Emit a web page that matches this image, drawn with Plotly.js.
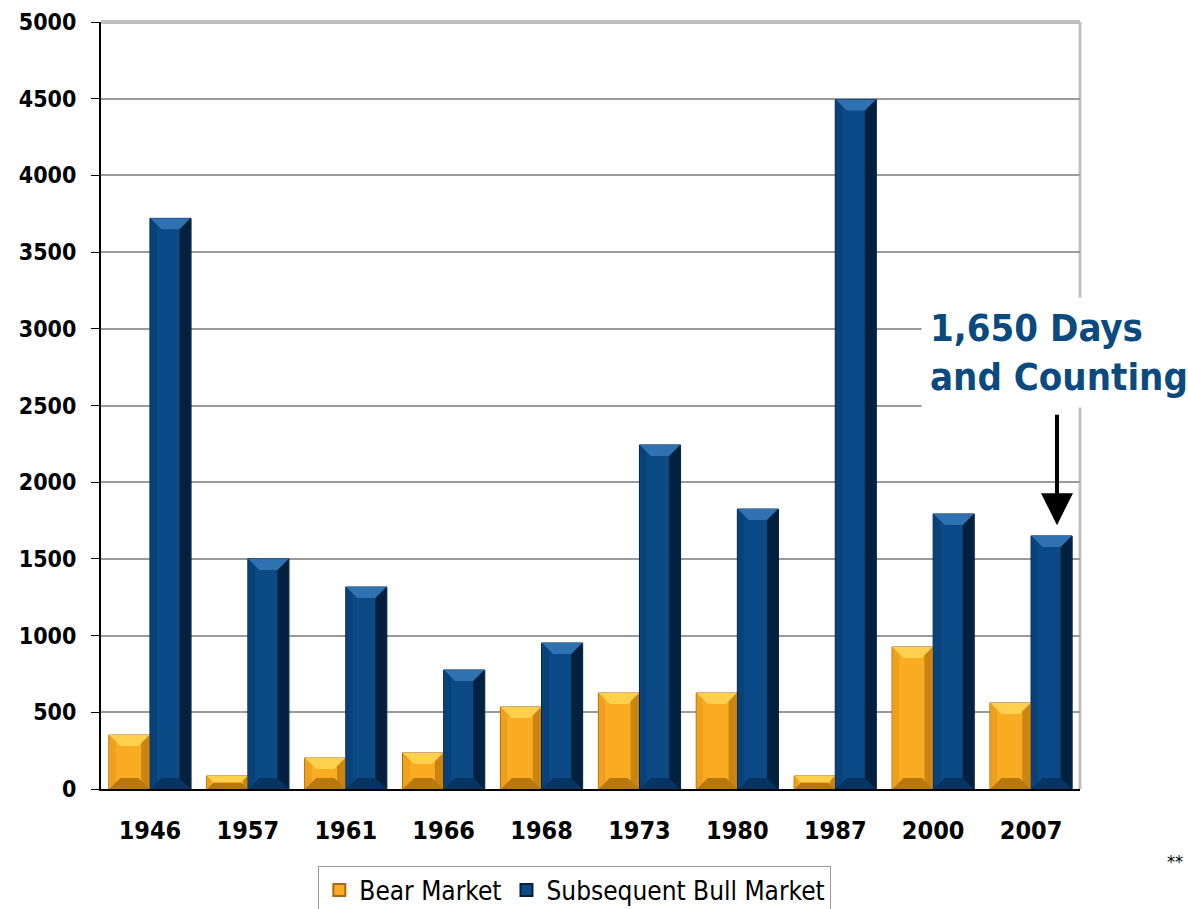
<!DOCTYPE html>
<html>
<head>
<meta charset="utf-8">
<script src="https://cdn.plot.ly/plotly-3.0.1.min.js"></script>
<style>html,body{margin:0;padding:0;background:#fff;}#chart{width:1188px;height:909px;}</style>
</head>
<body>
<div id="chart"></div>
<script>
const categories = ["1946","1957","1961","1966","1968","1973","1980","1987","2000","2007"];
const bearMarket = [352, 85, 202, 235, 535, 626, 626, 85, 926, 561];
const bullMarket = [3720, 1500, 1317, 776, 952, 2243, 1825, 4494, 1793, 1650];
const yTicks = [0, 500, 1000, 1500, 2000, 2500, 3000, 3500, 4000, 4500, 5000];

const FONT = '"DejaVu Sans Condensed", Roboto, sans-serif';

// styling constants
const PLOT_W = 1188 - 101 - 108, PLOT_H = 909 - 22 - 120, Y_MAX = 5000;
const BARGAP = 0.16;
const HALF = (1 - BARGAP) / 4;            // bar centre offset in category units
const BAR_PX = PLOT_W / categories.length * (1 - BARGAP) / 2;

const styles = {
  bear: {face: '#F9AC22', top: '#FFD04E', left: '#EEA01C', right: '#C98412', bottom: '#B87810', rw: 0.75},
  bull: {face: '#0B4A86', top: '#2F72B2', left: '#09417A', right: '#03213F', bottom: '#073563', rw: 1}
};

const traces = [
  {
    type: 'bar', name: 'Bear Market', x: categories, y: bearMarket,
    marker: {color: styles.bear.face, line: {color: '#A86A0C', width: 1}},
    hoverinfo: 'x+y'
  },
  {
    type: 'bar', name: 'Subsequent Bull Market', x: categories, y: bullMarket,
    marker: {color: styles.bull.face, line: {color: '#04223F', width: 1}},
    hoverinfo: 'x+y'
  }
];

function bevelShapes(values, offset, st) {
  const out = [];
  const w = BAR_PX / 2 - 0.5;
  values.forEach((v, i) => {
    const xc = i + offset;
    const hpx = v / Y_MAX * PLOT_H;
    const d = Math.min(11, hpx / 2.2);
    out.push({type: 'rect', xref: 'x', yref: 'y', xsizemode: 'pixel', xanchor: xc,
      x0: -w, x1: -w + d * 0.6, y0: 0, y1: v, line: {width: 0}, fillcolor: st.left, layer: 'above'});
    out.push({type: 'rect', xref: 'x', yref: 'y', xsizemode: 'pixel', xanchor: xc,
      x0: w - d * st.rw, x1: w, y0: 0, y1: v, line: {width: 0}, fillcolor: st.right, layer: 'above'});
    out.push({type: 'path', xref: 'x', yref: 'y', xsizemode: 'pixel', ysizemode: 'pixel',
      xanchor: xc, yanchor: v,
      path: `M ${-w},0 L ${w},0 L ${w - d},${-d} L ${-w + d},${-d} Z`,
      line: {width: 0}, fillcolor: st.top, layer: 'above'});
    out.push({type: 'path', xref: 'x', yref: 'y', xsizemode: 'pixel', ysizemode: 'pixel',
      xanchor: xc, yanchor: 0,
      path: `M ${-w},0 L ${w},0 L ${w - d},${d} L ${-w + d},${d} Z`,
      line: {width: 0}, fillcolor: st.bottom, layer: 'above'});
  });
  return out;
}

const layout = {
  width: 1188, height: 909,
  margin: {l: 101, r: 108, t: 22, b: 120, autoexpand: false},
  paper_bgcolor: '#ffffff', plot_bgcolor: '#ffffff',
  barmode: 'group', bargap: BARGAP, bargroupgap: 0,
  font: {family: FONT, color: '#000000'},
  showlegend: true,
  legend: {
    orientation: 'h', x: 0.484, xanchor: 'center', y: -0.1, yanchor: 'top',
    bordercolor: '#9a9a9a', borderwidth: 1, bgcolor: '#ffffff',
    font: {family: FONT, size: 26, color: '#000000'},
    itemsizing: 'constant', traceorder: 'normal', tracegroupgap: 0
  },
  xaxis: {
    type: 'category', tickvals: categories,
    showline: true, linecolor: '#000000', linewidth: 2,
    ticks: '', showgrid: false, zeroline: false,
    tickfont: {family: FONT, size: 25, weight: 'bold', color: '#000000'},
    ticklabelstandoff: 18
  },
  yaxis: {
    range: [0, Y_MAX], tickvals: yTicks, ticktext: yTicks.map(String),
    showline: true, linecolor: '#000000', linewidth: 2,
    ticks: 'outside', ticklen: 8, tickcolor: '#000000', tickwidth: 1,
    showgrid: true, gridcolor: '#9a9a9a', gridwidth: 2,
    zeroline: false,
    tickfont: {family: FONT, size: 23, weight: 'bold', color: '#000000'},
    ticklabelstandoff: 10
  },
  shapes: [
    {type: 'line', xref: 'paper', yref: 'paper', x0: 0, x1: 1, y0: 1, y1: 1, line: {color: '#c0c0c0', width: 4}, layer: 'below'},
    {type: 'line', xref: 'paper', yref: 'paper', x0: 1, x1: 1, y0: 0, y1: 1, line: {color: '#c0c0c0', width: 3}, layer: 'below'}
  ].concat(bevelShapes(bearMarket, -HALF, styles.bear), bevelShapes(bullMarket, HALF, styles.bull)),
  annotations: [
    {
      xref: 'paper', yref: 'paper', x: 0.838, y: 0.642, xanchor: 'left', yanchor: 'top',
      text: '1,650 Days<br>and Counting', align: 'left', showarrow: false,
      font: {family: FONT, size: 38, weight: 'bold', color: '#0B4A7E'},
      bgcolor: '#ffffff', borderpad: 8
    },
    {
      xref: 'paper', yref: 'paper', x: 0.9765, y: 0.344, ax: 0, ay: -112,
      text: '', showarrow: true, arrowhead: 2, arrowsize: 1.6, arrowwidth: 4, arrowcolor: '#000000'
    },
    {
      xref: 'paper', yref: 'paper', x: 1.107, y: -0.095, xanchor: 'right', yanchor: 'middle',
      text: '**', showarrow: false, font: {family: FONT, size: 18, color: '#000000'}
    }
  ]
};

Plotly.newPlot('chart', traces, layout, {displayModeBar: false, staticPlot: true});
</script>
</body>
</html>
